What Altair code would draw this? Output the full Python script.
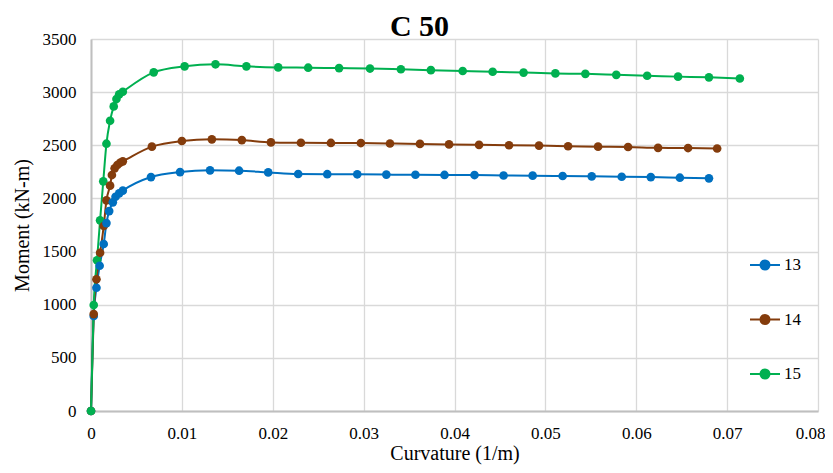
import altair as alt
import pandas as pd

series_names = ["13", "14", "15"]
colors = ["#0070C0", "#843C0C", "#00B050"]

curv13 = [0, 0.0003, 0.0006, 0.00095, 0.0014, 0.0017, 0.002, 0.0024, 0.0027, 0.0031, 0.0035,
          0.0066, 0.0098, 0.0131, 0.0163, 0.0195, 0.0228, 0.026, 0.0293, 0.0325, 0.0357,
          0.0389, 0.0422, 0.0454, 0.0486, 0.0519, 0.0551, 0.0584, 0.0616, 0.0648, 0.068]
m13 = [0, 894, 1160, 1367, 1571, 1768, 1881, 1963, 2016, 2048, 2073,
       2201, 2248, 2264, 2261, 2245, 2230, 2228, 2227, 2224, 2223,
       2221, 2220, 2216, 2214, 2211, 2208, 2204, 2201, 2195, 2189]

curv14 = [0, 0.0003, 0.0006, 0.001, 0.0014, 0.0017, 0.0021, 0.0023, 0.0026, 0.0029, 0.0032, 0.0035,
          0.0067, 0.01, 0.0133, 0.0166, 0.0198, 0.0231, 0.0264, 0.0297, 0.0329, 0.0362,
          0.0394, 0.0427, 0.046, 0.0493, 0.0525, 0.0558, 0.0591, 0.0624, 0.0657, 0.0689]
m14 = [0, 912, 1239, 1489, 1740, 1982, 2120, 2220, 2283, 2314, 2336, 2349,
       2487, 2540, 2556, 2549, 2527, 2524, 2522, 2521, 2517, 2513,
       2508, 2504, 2500, 2497, 2491, 2487, 2484, 2476, 2474, 2470]

curv15 = [0, 0.0003, 0.00066, 0.001, 0.00135, 0.0017, 0.0021, 0.0025, 0.0028, 0.0031, 0.0035,
          0.0069, 0.0103, 0.0137, 0.0171, 0.0206, 0.0239, 0.0273, 0.0307, 0.0341, 0.0374,
          0.0409, 0.0442, 0.0476, 0.0511, 0.0544, 0.0578, 0.0612, 0.0646, 0.068, 0.0714]
m15 = [0, 997, 1418, 1794, 2161, 2515, 2731, 2866, 2935, 2979, 3004,
       3186, 3243, 3262, 3243, 3233, 3230, 3226, 3222, 3215, 3207,
       3199, 3192, 3184, 3176, 3172, 3163, 3154, 3146, 3139, 3128]

x_ticks = [0, 0.01, 0.02, 0.03, 0.04, 0.05, 0.06, 0.07, 0.08]
y_ticks = [0, 500, 1000, 1500, 2000, 2500, 3000, 3500]

rows = []
for name, xs, ys in zip(series_names, [curv13, curv14, curv15], [m13, m14, m15]):
    for i, (xv, yv) in enumerate(zip(xs, ys)):
        rows.append({"series": name, "curv": xv, "moment": yv, "order": i})
df = pd.DataFrame(rows)

FONT = "Liberation Serif"
legend_path = "M-1,0L1,0M-0.3,0A0.3,0.3,0,1,1,0.3,0A0.3,0.3,0,1,1,-0.3,0Z"

last_label = "datum.value >= 0.079"

chart = alt.Chart(df).mark_line(
    interpolate="monotone",
    strokeWidth=2,
    point=alt.OverlayMarkDef(filled=True, size=75, opacity=1),
).encode(
    x=alt.X("curv:Q", title="Curvature (1/m)",
            scale=alt.Scale(domain=[0, 0.08], nice=False, zero=True),
            axis=alt.Axis(values=x_ticks, format=".2~f", grid=True, ticks=False,
                          labelFlush=False, labelFont=FONT,
                          labelAlign={"condition": {"test": last_label, "value": "right"},
                                      "value": "center"},
                          labelOffset={"condition": {"test": last_label, "value": 7},
                                       "value": 0},
                          domainColor="#BFBFBF", domainWidth=2,
                          labelPadding=14, titlePadding=2)),
    y=alt.Y("moment:Q", title="Moment (kN-m)",
            scale=alt.Scale(domain=[0, 3500], nice=False),
            axis=alt.Axis(values=y_ticks, format="d", grid=True, ticks=False,
                          labelFlush=False, labelFont=FONT,
                          domainColor="#BFBFBF", domainWidth=2,
                          labelPadding=15, titlePadding=10)),
    color=alt.Color("series:N", scale=alt.Scale(domain=series_names, range=colors),
                    legend=alt.Legend(title=None, orient="none", legendX=658, legendY=210,
                                      symbolType=legend_path, symbolSize=900,
                                      symbolStrokeWidth=2, rowPadding=29.5, padding=0,
                                      symbolFillColor=alt.ExprRef("scale('color', datum.value)"),
                                      labelFont=FONT, labelFontSize=17, labelColor="#000000",
                                      labelOffset=3)),
    order="order:Q",
).properties(
    width=727,
    height=372,
    title=alt.TitleParams("C 50", font=FONT, fontSize=30, fontWeight="bold",
                          color="#000000", anchor="middle", dx=-35, dy=16, offset=4),
    autosize=alt.AutoSizeParams(type="none"),
    padding={"left": 83, "top": 31, "right": 7, "bottom": 54},
).configure_view(stroke=None).configure_axis(
    gridColor="#D9D9D9", gridWidth=1.3,
    labelFont=FONT, labelFontSize=17, labelColor="#000000",
    titleFont=FONT, titleFontSize=20, titleFontWeight="normal", titleColor="#000000",
)

chart.save("out.html", embed_options={"renderer": "svg", "actions": False})
